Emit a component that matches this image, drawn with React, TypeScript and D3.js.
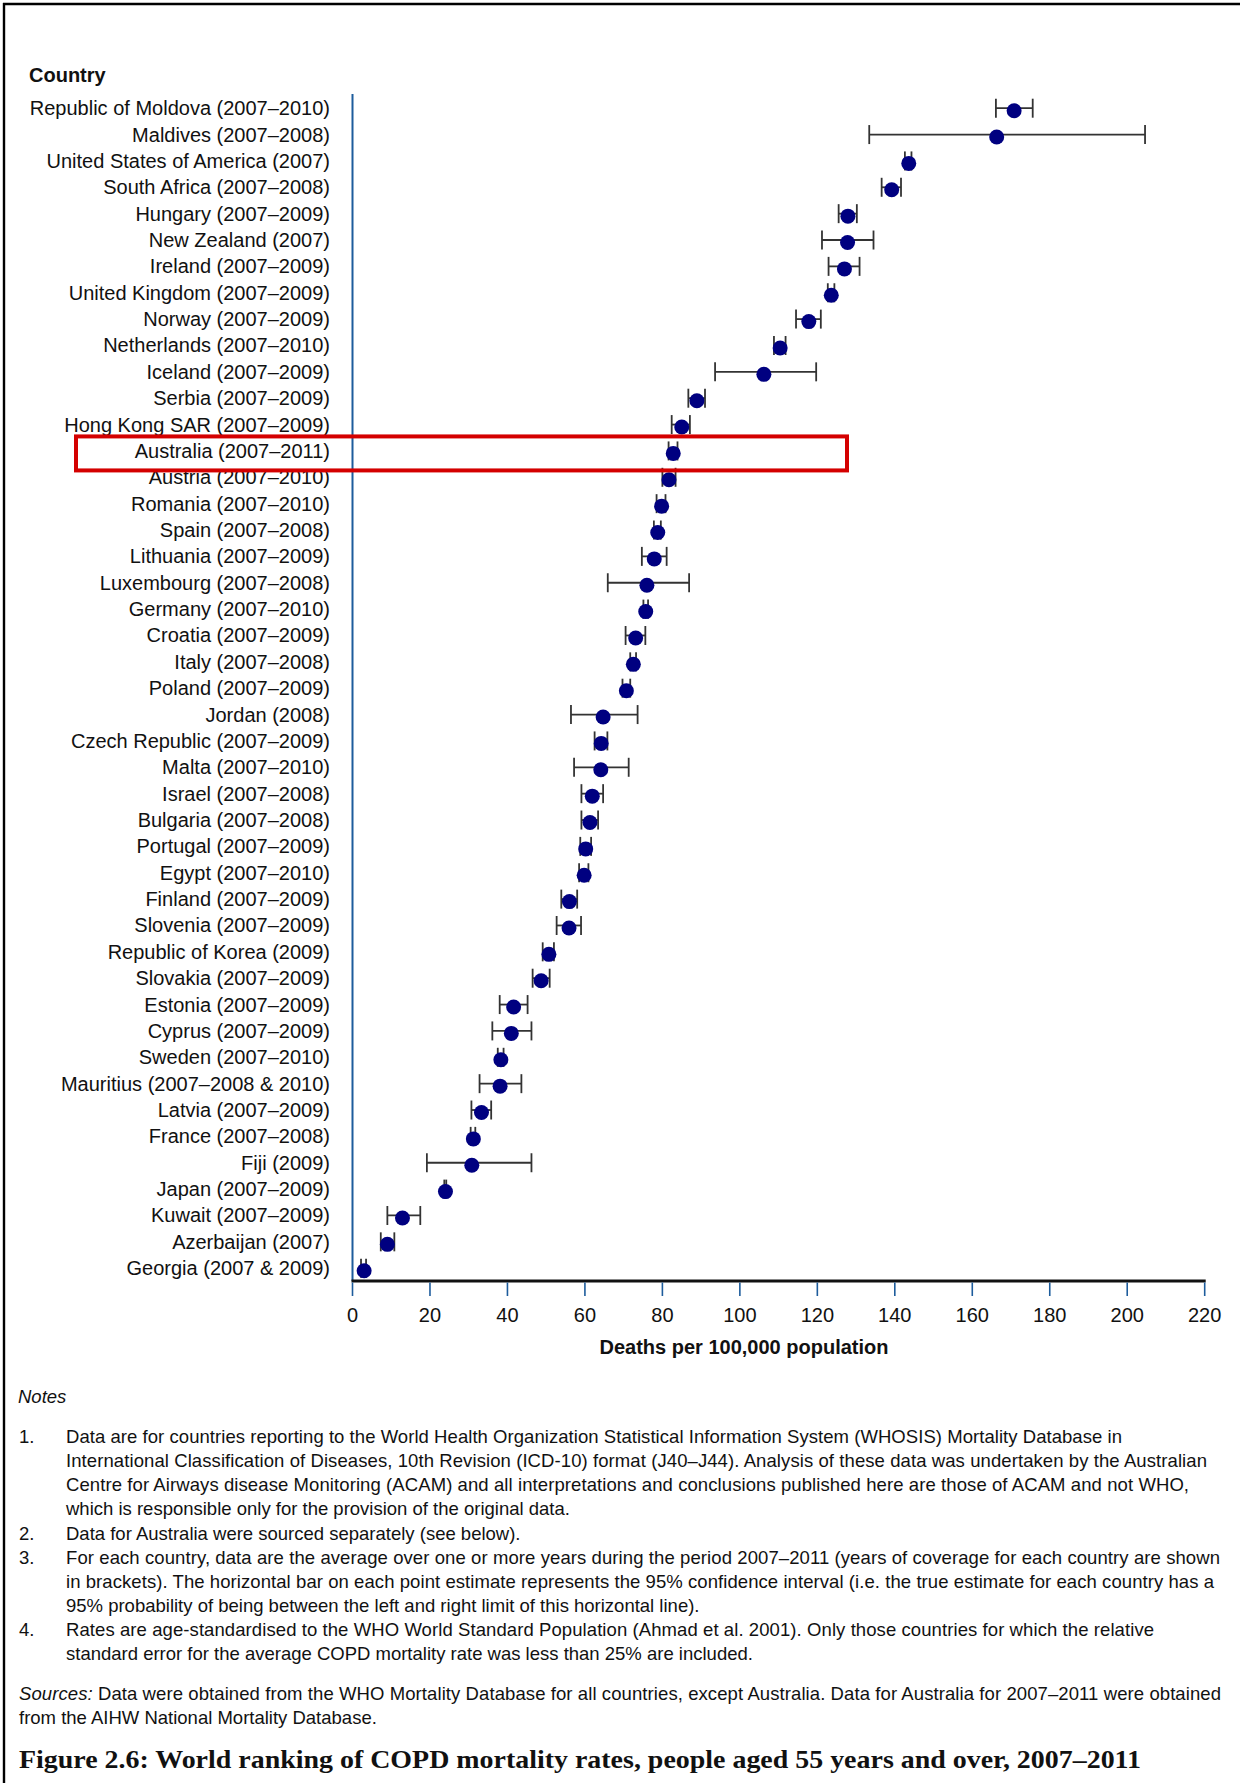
import React, { useEffect } from "react";
import * as d3 from "d3";

// Countries, ranked by age-standardised COPD death rate (per 100,000, 55+)
const countries = [
  "Republic of Moldova (2007–2010)",
  "Maldives (2007–2008)",
  "United States of America (2007)",
  "South Africa (2007–2008)",
  "Hungary (2007–2009)",
  "New Zealand (2007)",
  "Ireland (2007–2009)",
  "United Kingdom (2007–2009)",
  "Norway (2007–2009)",
  "Netherlands (2007–2010)",
  "Iceland (2007–2009)",
  "Serbia (2007–2009)",
  "Hong Kong SAR (2007–2009)",
  "Australia (2007–2011)",
  "Austria (2007–2010)",
  "Romania (2007–2010)",
  "Spain (2007–2008)",
  "Lithuania (2007–2009)",
  "Luxembourg (2007–2008)",
  "Germany (2007–2010)",
  "Croatia (2007–2009)",
  "Italy (2007–2008)",
  "Poland (2007–2009)",
  "Jordan (2008)",
  "Czech Republic (2007–2009)",
  "Malta (2007–2010)",
  "Israel (2007–2008)",
  "Bulgaria (2007–2008)",
  "Portugal (2007–2009)",
  "Egypt (2007–2010)",
  "Finland (2007–2009)",
  "Slovenia (2007–2009)",
  "Republic of Korea (2009)",
  "Slovakia (2007–2009)",
  "Estonia (2007–2009)",
  "Cyprus (2007–2009)",
  "Sweden (2007–2010)",
  "Mauritius (2007–2008 & 2010)",
  "Latvia (2007–2009)",
  "France (2007–2008)",
  "Fiji (2009)",
  "Japan (2007–2009)",
  "Kuwait (2007–2009)",
  "Azerbaijan (2007)",
  "Georgia (2007 & 2009)",
];

const rates = [
  170.8, 166.3, 143.6, 139.2, 127.9, 127.8, 127.0, 123.6, 117.8, 110.4, 106.2,
  88.9, 85.0, 82.8, 81.7, 79.8, 78.8, 77.9, 76.0, 75.7, 73.1, 72.5, 70.7, 64.7,
  64.2, 64.1, 61.9, 61.3, 60.2, 59.8, 56.0, 55.9, 50.7, 48.7, 41.6, 41.0, 38.3,
  38.1, 33.3, 31.2, 30.8, 24.0, 12.9, 9.0, 3.0,
];

const lower = [
  166.1, 133.4, 142.6, 136.6, 125.5, 121.2, 122.9, 122.7, 114.5, 108.8, 93.6,
  86.7, 82.4, 81.6, 80.0, 78.5, 77.8, 74.7, 65.9, 75.1, 70.5, 71.7, 69.7, 56.4,
  62.5, 57.2, 59.1, 59.1, 58.8, 58.5, 53.9, 52.7, 49.1, 46.5, 38.0, 36.1, 37.5,
  32.8, 30.7, 30.5, 19.2, 23.7, 9.0, 7.3, 2.2,
];

const upper = [
  175.6, 204.6, 144.3, 141.6, 130.2, 134.5, 130.9, 124.4, 120.9, 111.8, 119.7,
  91.0, 87.1, 83.9, 83.4, 80.8, 79.6, 81.1, 86.9, 76.3, 75.6, 73.2, 71.7, 73.6,
  65.8, 71.3, 64.7, 63.4, 61.6, 60.9, 58.0, 59.0, 52.0, 50.9, 45.2, 46.2, 39.0,
  43.6, 35.8, 31.7, 46.2, 24.2, 17.5, 10.8, 3.5,
];

const xTicks = [0, 20, 40, 60, 80, 100, 120, 140, 160, 180, 200, 220];
const highlighted = "Australia (2007–2011)";

const noteNumbers = ["1.", "", "", "", "2.", "3.", "", "", "4.", ""];
const noteLines = [
  "Data are for countries reporting to the World Health Organization Statistical Information System (WHOSIS) Mortality Database in",
  "International Classification of Diseases, 10th Revision (ICD-10) format (J40–J44). Analysis of these data was undertaken by the Australian",
  "Centre for Airways disease Monitoring (ACAM) and all interpretations and conclusions published here are those of ACAM and not WHO,",
  "which is responsible only for the provision of the original data.",
  "Data for Australia were sourced separately (see below).",
  "For each country, data are the average over one or more years during the period 2007–2011 (years of coverage for each country are shown",
  "in brackets). The horizontal bar on each point estimate represents the 95% confidence interval (i.e. the true estimate for each country has a",
  "95% probability of being between the left and right limit of this horizontal line).",
  "Rates are age-standardised to the WHO World Standard Population (Ahmad et al. 2001). Only those countries for which the relative",
  "standard error for the average COPD mortality rate was less than 25% are included.",
];
// lines that run to the right margin get stretched to their measured width
const noteWidths = [1056, 1141, 1123, 0, 0, 1154, 1148, 0, 1088, 0];

const sourceLines = [
  " Data were obtained from the WHO Mortality Database for all countries, except Australia. Data for Australia for 2007–2011 were obtained",
  "from the AIHW National Mortality Database.",
];

const caption =
  "Figure 2.6: World ranking of COPD mortality rates, people aged 55 years and over, 2007–2011";

const SANS = "'Liberation Sans', Arial, Helvetica, sans-serif";
const SERIF = "'Liberation Serif', 'Times New Roman', serif";

export default function App() {
  useEffect(() => {
    document.body.style.margin = "0";
  }, []);

  const width = 1240;
  const height = 1783;

  const x = d3.scaleLinear().domain([0, 220]).range([352.5, 1204.7]);
  const y = d3
    .scalePoint()
    .domain(countries)
    .range([110.7, 1270.7]);

  const axisY = 1281;
  const barOffset = -2.5;
  const capHalf = 9.5;
  const hy = y(highlighted);

  return (
    <svg
      width={width}
      height={height}
      style={{ position: "absolute", left: 0, top: 0, background: "#fff" }}
    >
      {/* frame */}
      <line x1={3} y1={4} x2={width} y2={4} stroke="#000" strokeWidth={2.6} />
      <line x1={4} y1={3} x2={4} y2={height} stroke="#000" strokeWidth={2.4} />

      <text x={29} y={82} fontFamily={SANS} fontSize={20} fontWeight="bold" fill="#111">
        Country
      </text>

      {/* row labels */}
      {countries.map((c) => (
        <text
          key={c}
          x={330}
          y={y(c) + 4.5}
          textAnchor="end"
          fontFamily={SANS}
          fontSize={20}
          fill="#111"
        >
          {c}
        </text>
      ))}

      {/* axes */}
      <line x1={x(0)} y1={94} x2={x(0)} y2={axisY} stroke="#1d5c9c" strokeWidth={2} />
      <line x1={x(0) - 1} y1={axisY} x2={x(220) + 1} y2={axisY} stroke="#111" strokeWidth={3} />
      {xTicks.map((t) => (
        <g key={t}>
          <line
            x1={x(t)}
            y1={axisY + 1.5}
            x2={x(t)}
            y2={axisY + 15}
            stroke="#1d5c9c"
            strokeWidth={1.6}
          />
          <text
            x={x(t)}
            y={axisY + 41}
            textAnchor="middle"
            fontFamily={SANS}
            fontSize={20}
            fill="#111"
          >
            {t}
          </text>
        </g>
      ))}
      <text
        x={744}
        y={1354}
        textAnchor="middle"
        fontFamily={SANS}
        fontSize={20}
        fontWeight="bold"
        fill="#111"
      >
        Deaths per 100,000 population
      </text>

      {/* confidence intervals */}
      {countries.map((c, i) => {
        const by = y(c) + barOffset;
        return (
          <g key={c} stroke="#333" strokeWidth={1.8}>
            <line x1={x(lower[i])} y1={by} x2={x(upper[i])} y2={by} />
            <line x1={x(lower[i])} y1={by - capHalf} x2={x(lower[i])} y2={by + capHalf} />
            <line x1={x(upper[i])} y1={by - capHalf} x2={x(upper[i])} y2={by + capHalf} />
          </g>
        );
      })}

      {/* point estimates */}
      {countries.map((c, i) => (
        <circle key={c} cx={x(rates[i])} cy={y(c)} r={7.5} fill="#000080" />
      ))}

      {/* Australia highlight */}
      <rect
        x={76}
        y={hy - 17}
        width={771}
        height={34}
        fill="none"
        stroke="#d40000"
        strokeWidth={4}
      />

      {/* notes */}
      <text x={18} y={1403} fontFamily={SANS} fontSize={18.5} fontStyle="italic" fill="#111">
        Notes
      </text>
      {noteLines.map((line, i) => {
        const ly = 1443 + i * 24 + (i >= 4 ? 0.6 : 0);
        return (
          <g key={i}>
            {noteNumbers[i] && (
              <text x={19} y={ly} fontFamily={SANS} fontSize={18.5} fill="#111">
                {noteNumbers[i]}
              </text>
            )}
            <text
              x={66}
              y={ly}
              fontFamily={SANS}
              fontSize={18.5}
              fill="#111"
              {...(noteWidths[i]
                ? { textLength: noteWidths[i], lengthAdjust: "spacing" }
                : {})}
            >
              {line}
            </text>
          </g>
        );
      })}

      <text
        x={19}
        y={1699.5}
        fontFamily={SANS}
        fontSize={18.5}
        fill="#111"
        textLength={1202}
        lengthAdjust="spacing"
      >
        <tspan fontStyle="italic">Sources:</tspan>
        {sourceLines[0]}
      </text>
      <text x={19} y={1723.5} fontFamily={SANS} fontSize={18.5} fill="#111">
        {sourceLines[1]}
      </text>

      <text
        x={19}
        y={1768}
        fontFamily={SERIF}
        fontSize={25}
        fontWeight="bold"
        fill="#111"
        textLength={1122}
        lengthAdjust="spacingAndGlyphs"
      >
        {caption}
      </text>
    </svg>
  );
}
